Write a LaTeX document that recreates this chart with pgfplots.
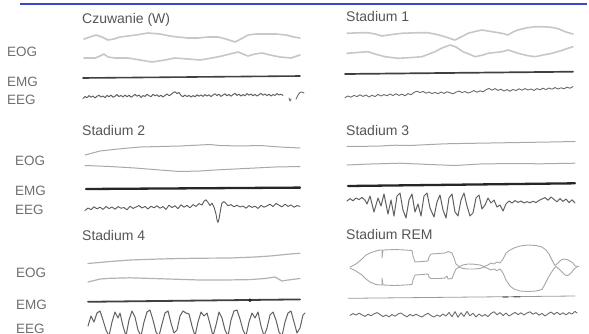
\documentclass[border=0pt]{standalone}
\usepackage{pgfplots}
\pgfplotsset{compat=1.18}
\usepackage{fontspec}
\setmainfont{Liberation Sans}
\definecolor{topblue}{RGB}{60,70,200}
\definecolor{ttl}{RGB}{85,85,85}
\definecolor{lbl}{RGB}{110,110,110}
\begin{document}
\begin{tikzpicture}
\useasboundingbox (0,0) rectangle (589pt,333pt);
\clip (0,0) rectangle (589pt,333pt);
\begin{axis}[at={(0,0)},anchor=south west,scale only axis,width=589pt,height=333pt,
  xmin=0,xmax=589,ymin=0,ymax=333,y dir=reverse,hide axis,clip=false,
  every axis plot/.append style={no marks,line join=round,line cap=round},
  eogA/.style={color=black!22,line width=1.6pt},
  eogB/.style={color=black!34,line width=1.0pt},
  emg/.style={color=black!75,line width=2.0pt},
  eeg/.style={color=black!58,line width=0.9pt}]
% top rule
\addplot[color=topblue,line width=2pt,line cap=butt] coordinates {(20,3.5)(587,3.5)};
% ---------- Czuwanie (W)
\addplot[eogA] coordinates {(84,39)(90,37)(96,35)(102,37)(108,40)(114,39)(120,37)(128,36)(136,35)(148,33)(160,34)(170,36)(178,37)(188,38)(198,38)(208,37)(218,37)(226,39)(235,42)(241,39)(248,35)(256,34)(266,34)(276,34)(286,35)(294,37)(300,38)};
\addplot[eogA] coordinates {(84,58)(95,58)(100,56)(104,54)(108,57)(115,58)(128,58)(140,60)(152,62)(165,60)(175,58)(188,59)(200,60)(212,58)(222,56)(230,54)(238,52)(243,54)(248,56)(255,54)(262,53)(270,55)(280,57)(291,58)(300,55)};
\addplot[emg,line width=1.6pt] coordinates {(83,78)(300,76)};
\addplot[eeg,color=black!62,line width=1.0pt] coordinates {(83,98.5)(85,96.5)(87,97.8)(89,95.6)(91,97.2)(93,96.0)(95,98.0)(97,96.2)(99,95.2)(101,97.0)(103,96.0)(105,97.6)(107,95.4)(109,96.8)(111,95.0)(113,97.2)(115,96.2)(117,94.6)(119,96.6)(121,95.4)(123,97.0)(125,95.0)(127,96.8)(129,95.2)(131,97.2)(133,96.0)(135,94.4)(137,96.2)(139,95.0)(141,97.4)(143,95.6)(145,96.4)(147,94.2)(149,95.8)(151,96.6)(153,94.4)(155,95.8)(157,94.8)(159,96.6)(161,95.2)(163,97.0)(165,95.4)(167,94.0)(169,95.6)(171,94.6)(173,92.8)(175,91.8)(177,93.6)(179,92.4)(181,95.4)(183,96.8)(185,95.0)(187,96.6)(189,95.4)(191,97.0)(193,95.6)(195,96.8)(197,94.8)(199,96.2)(201,95.0)(203,96.4)(205,94.6)(207,96.0)(209,94.8)(211,96.6)(213,95.0)(215,93.8)(217,95.6)(219,94.2)(221,96.4)(223,95.0)(225,93.8)(227,95.8)(229,94.4)(231,96.2)(233,94.6)(235,93.4)(237,95.4)(239,94.2)(241,96.0)(243,94.6)(245,95.8)(247,93.6)(249,95.2)(251,94.0)(253,95.8)(255,94.4)(257,96.0)(259,94.8)(261,93.4)(263,95.2)(265,94.0)(267,95.6)(269,94.2)(271,96.0)(273,94.6)(275,95.4)(277,93.6)(279,95.0)(281,94.2)(283,95.4)};
\addplot[eeg] coordinates {(289,98)(290,101)(291,99)};
\addplot[eeg] coordinates {(296,99)(298,95)(300,92.5)(302,92)(304,93)};
% ---------- Stadium 1
\addplot[eogA] coordinates {(347,33.3)(358,32.8)(368,32.7)(375,34)(382,36)(392,34.5)(402,33.3)(415,32.8)(428,32.7)(437,34.5)(445,36.7)(450,38.5)(455,40)(461,37)(468,33.3)(475,31.5)(482,30)(492,31.7)(502,33.3)(508,35)(513,32)(518,30)(526,28)(535,26.7)(544,26.8)(552,27.3)(559,29)(565,31.7)(573,34)};
\addplot[eogA] coordinates {(347,53.3)(358,52.5)(368,51.7)(375,54)(385,56.7)(398,58.3)(412,57.5)(422,56.7)(435,51.7)(442,48)(450,45)(456,47)(463,51.7)(470,54.5)(475,56.7)(483,55)(488,53.3)(502,51.7)(508,50)(513,51.5)(518,53.3)(527,55.5)(535,56.7)(543,55)(552,53.3)(560,51)(568,48.3)(573,46.7)};
\addplot[emg,line width=1.7pt] coordinates {(345,74)(573,71.7)};
\addplot[eeg] coordinates {(345,97.5)(348,96.0)(351,97.2)(354,95.4)(357,96.6)(360,94.8)(363,96.4)(366,95.0)(369,97.0)(372,95.2)(375,96.6)(378,94.4)(381,96.0)(384,94.6)(387,95.8)(390,94.0)(393,95.6)(396,93.8)(399,95.4)(402,94.2)(405,95.8)(408,93.6)(411,94.8)(414,92.4)(417,91.2)(420,92.6)(423,91.4)(426,93.2)(429,92.0)(432,93.6)(435,92.4)(438,93.8)(441,92.0)(444,93.4)(447,91.8)(450,92.8)(453,93.8)(456,92.2)(459,91.0)(462,92.6)(465,91.6)(468,93.0)(471,92.0)(474,90.6)(477,92.2)(480,90.8)(483,91.8)(486,89.8)(489,88.4)(492,90.2)(495,88.6)(498,90.4)(501,89.2)(504,91.0)(507,89.6)(510,91.2)(513,89.4)(516,90.6)(519,88.8)(522,90.2)(525,88.6)(528,90.0)(531,89.0)(534,90.4)(537,88.6)(540,89.8)(543,88.2)(546,89.6)(549,88.0)(552,89.2)(555,87.6)(558,89.0)(561,87.8)(564,88.8)(567,87.2)(570,88.2)(573,86.6)};
% ---------- Stadium 2
\addplot[eogB] coordinates {(85,155)(100,151)(118,149)(140,147)(160,146.5)(180,146)(200,145)(210,144.5)(220,145.5)(240,146)(260,145.5)(280,147)(300,148)};
\addplot[eogB] coordinates {(85,165.5)(110,166.5)(135,168)(160,170)(180,171.5)(200,171)(215,170)(235,169)(255,168)(275,167)(300,166.5)};
\addplot[emg,color=black!85,line width=2.3pt] coordinates {(86,189)(300,187.6)};
\addplot[eeg,color=black!65] coordinates {(85,210.5)(88,208.0)(91,209.6)(94,206.8)(97,208.8)(100,207.2)(103,209.4)(106,206.4)(109,208.6)(112,207.0)(115,209.2)(118,206.6)(121,208.2)(124,207.6)(127,209.8)(130,206.2)(133,208.4)(136,207.0)(139,205.6)(142,208.0)(145,206.4)(148,209.0)(151,206.2)(154,207.8)(157,205.8)(160,208.2)(163,206.6)(166,209.4)(169,205.2)(172,207.6)(175,205.8)(178,208.6)(181,204.8)(184,207.2)(187,205.4)(190,207.8)(193,204.6)(196,206.4)(199,203.6)(202,205.0)(204,201.2)(206,199.8)(208,202.4)(210,205.6)(212,203.2)(214,207.0)(216,214.0)(217,220.0)(218,222.4)(219,219.0)(220,213.0)(221,207.2)(222,203.0)(224,201.6)(226,203.4)(228,205.8)(231,204.6)(234,206.8)(237,205.2)(240,207.0)(243,206.0)(246,208.2)(249,205.6)(252,207.4)(255,206.2)(258,208.4)(261,205.4)(264,207.2)(267,205.8)(270,204.2)(273,206.6)(276,203.4)(279,205.2)(282,206.8)(285,204.2)(288,206.4)(291,205.0)(294,207.2)(297,205.6)(300,206.4)};
% ---------- Stadium 3
\addplot[eogB] coordinates {(347,146.5)(365,146.3)(380,146)(395,145.2)(410,145.5)(430,144.5)(445,143.8)(460,143.5)(490,143)(520,142.5)(550,142)(575,141.5)};
\addplot[eogB] coordinates {(347,165)(370,164)(400,163.2)(430,164.5)(455,165.5)(480,164)(510,163.5)(540,163.8)(575,163.2)};
\addplot[emg,color=black!85,line width=2.3pt] coordinates {(348,186)(575,183.3)};
\addplot[eeg,color=black!62,line width=1.0pt] coordinates {(347,201)(350,198.6)(353,200.8)(356,198.0)(359,199.6)(362,197.4)(365,200.2)(367,204)(370,196)(374,212)(378,198)(381,206)(384,194)(388,214)(391,200)(394,216)(397,196)(400,193)(403,210)(406,218)(409,200)(412,194)(415,212)(418,204)(421,216)(424,196)(427,193)(430,208)(434,217)(437,202)(440,195)(443,210)(446,218)(449,198)(452,194)(455,212)(458,216)(461,200)(464,193)(467,206)(470,216)(473,213)(476,198)(479,195)(482,209)(485,205)(488,198)(491,203)(494,200)(497,207)(500,205)(503,211)(506,204)(509,201)(512,203)(515,200.6)(518,202.4)(521,201.0)(524,203.0)(527,201.6)(530,202.8)(533,201.2)(536,202.6)(539,200.4)(542,199.0)(545,197.6)(548,200.2)(551,197.0)(554,199.4)(557,201.8)(560,198.6)(563,201.4)(566,199.0)(569,202.6)(572,199.8)(575,203.0)};
% ---------- Stadium 4
\addplot[eogA,line width=1.2pt,color=black!30] coordinates {(88,263.5)(110,261.5)(130,260)(160,259)(180,258.5)(200,258.2)(230,258)(255,257)(270,256)(280,255)(292,253.8)(300,253.3)};
\addplot[eogA,line width=1.2pt,color=black!30] coordinates {(88,282)(100,279)(110,278.3)(130,277.8)(150,278.4)(175,279.2)(200,280)(225,280)(250,279.6)(265,278.5)(275,277)(282,281)(288,280)(300,278.5)};
\addplot[emg,line width=1.8pt] coordinates {(88,301.8)(300,299.4)};
\addplot[only marks,mark=*,mark size=1.6pt,color=black!85] coordinates {(250,300.2)};
\addplot[eeg,color=black!62,line width=1.0pt] coordinates {(88,326)(91,316)(94,322)(97,313)(100,311)(103,320)(106,330)(109,336)(112,322)(115,312)(118,318)(120,313)(123,326)(126,336)(129,320)(132,311)(135,317)(138,330)(141,336)(144,322)(147,312)(150,310)(153,320)(156,332)(159,336)(162,324)(165,313)(168,311)(171,323)(174,333)(177,330)(180,316)(183,311)(186,313)(189,314)(192,326)(195,336)(198,322)(201,312)(204,316)(207,313)(210,324)(213,336)(216,325)(219,312)(222,318)(225,330)(228,336)(231,320)(234,311)(237,310)(240,319)(243,330)(246,336)(249,322)(252,313)(255,318)(258,312)(261,326)(264,336)(267,328)(270,315)(273,312)(276,320)(279,332)(282,336)(285,322)(288,313)(291,311)(294,322)(297,333)(300,328)(303,315)(305,313)};
% ---------- Stadium REM
\addplot[eogB,color=black!35,line width=0.9pt] coordinates {(350,267)(356,264)(362,259)(366,255)(370,253)(376,251)(380,250)(382,250)(382,258)(383,250)(395,249.5)(405,250)(412,250.5)(413,256)(415,262)(422,261.5)(428,261)(429,257)(431,254)(438,253.5)(445,253)(448,251.5)(452,253)(454,258)(456,264)(459,266.5)(463,265)(468,264)(474,264.2)(480,265)(484,266.5)(488,265)(491,263)(494,264)(497,262)(500,263)(503,259)(506,253)(510,250)(514,248)(520,246)(528,245)(536,245.5)(542,247)(546,250)(549,254)(551,258)(553,262)(555,265.5)(558,263)(561,260)(564,259)(567,259.5)(570,261)(573,263)(575,266)(579,266.5)};
\addplot[eogB,color=black!35,line width=0.9pt] coordinates {(350,268)(356,271)(362,275)(366,279)(370,282)(376,284.5)(380,285)(382,285)(382,278)(383,285)(395,285.5)(405,285)(412,284.5)(413,280)(415,275)(422,274.5)(428,274)(429,277)(431,278.5)(440,278.5)(445,278)(447,276)(448,279)(452,278.5)(454,273)(456,269)(459,267)(463,268.5)(468,269)(474,269)(480,268.5)(484,267)(488,268.5)(491,270)(494,269)(497,270.5)(500,269)(503,273)(506,280)(510,286)(514,289)(520,291)(528,291.5)(536,291)(542,289.5)(545,284)(548,278)(551,273)(554,268.5)(556,266.5)(559,269)(562,272)(565,275)(568,275.5)(571,273)(574,269)(577,267)};
\addplot[color=black!40,line width=0.8pt] coordinates {(348,298.3)(575,296)};
\addplot[color=black!60,line width=1.2pt] coordinates {(503,297)(508,296.9)};
\addplot[color=black!60,line width=1.2pt] coordinates {(514,296.8)(520,296.7)};
\addplot[eeg] coordinates {(350,315.4)(353,313.6)(356,315.0)(359,313.2)(362,314.8)(365,316.4)(368,314.2)(371,315.8)(374,313.8)(377,312.6)(380,314.4)(383,316.6)(386,315.0)(389,316.8)(392,314.6)(395,316.2)(398,314.0)(401,313.0)(404,315.2)(407,316.8)(410,314.4)(413,316.0)(416,314.2)(419,315.8)(422,317.0)(425,314.8)(428,313.2)(431,315.6)(434,317.0)(437,315.0)(440,316.4)(443,314.0)(446,316.0)(449,312.4)(452,316.8)(455,311.6)(458,317.2)(461,312.8)(464,316.4)(467,311.4)(470,315.8)(473,313.2)(476,317.0)(479,314.0)(482,316.2)(485,314.6)(488,316.6)(491,313.4)(494,311.8)(497,314.8)(500,312.6)(503,315.6)(506,313.0)(509,316.0)(512,314.2)(515,312.4)(518,314.6)(521,312.8)(524,315.0)(527,313.0)(530,311.8)(533,314.2)(536,312.6)(539,315.2)(542,313.4)(545,316.0)(548,313.8)(551,312.0)(554,314.4)(557,312.2)(560,314.6)(563,312.8)(566,314.8)(569,312.6)(572,314.0)(575,311.4)(577,313.0)};
% ---------- texts
\begin{scope}[every node/.style={inner sep=0pt,anchor=base west,font=\fontsize{14}{16}\selectfont,text=ttl}]
\node at (axis cs:82,23) {Czuwanie (W)};
\node at (axis cs:346,21.5) {Stadium 1};
\node at (axis cs:82,135) {Stadium 2};
\node at (axis cs:346,135) {Stadium 3};
\node at (axis cs:82,240) {Stadium 4};
\node at (axis cs:346,239) {Stadium REM};
\end{scope}
\begin{scope}[every node/.style={inner sep=0pt,anchor=base west,font=\fontsize{13.5}{16}\selectfont,text=lbl}]
\node at (axis cs:7,56.5) {EOG};
\node at (axis cs:7,86.5) {EMG};
\node at (axis cs:7,104) {EEG};
\node at (axis cs:15,165) {EOG};
\node at (axis cs:15,195) {EMG};
\node at (axis cs:15,214) {EEG};
\node at (axis cs:16,277) {EOG};
\node at (axis cs:16,309.5) {EMG};
\node at (axis cs:16,333) {EEG};
\end{scope}
\end{axis}
\end{tikzpicture}
\end{document}
